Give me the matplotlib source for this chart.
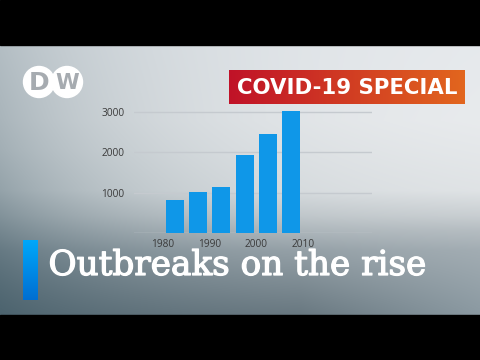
import numpy as np
import matplotlib.pyplot as plt
import matplotlib.patheffects as pe
from matplotlib.patches import Rectangle, Circle

# outbreaks per 5-year period
periods = [1980, 1985, 1990, 1995, 2000, 2005]
outbreaks = [815, 1005, 1140, 1940, 2460, 3030]
yticks = [1000, 2000, 3000]
xticks = [1980, 1990, 2000, 2010]

W, H = 480, 360
fig = plt.figure(figsize=(4.8, 3.6), dpi=100)
renderer = fig.canvas.get_renderer()


def fit_width(txt, target):
    # scale font so the text spans target pixels
    w = txt.get_window_extent(renderer).width
    txt.set_fontsize(txt.get_fontsize() * target / w)


# background in pixel coords
bg = fig.add_axes([0, 0, 1, 1])
bg.set_xlim(0, W)
bg.set_ylim(H, 0)
bg.axis('off')

yy, xx = np.mgrid[0:H, 0:W].astype(float)
rows = np.array([45, 120, 190, 215, 250, 315])
top = np.array([[233, 236, 239], [236, 238, 240], [228, 231, 233],
                [205, 210, 213], [158, 168, 174], [110, 124, 132]]) / 255
col = np.stack([np.interp(yy[:, 0], rows, top[:, k]) for k in range(3)], -1)
img = np.repeat(col[:, None, :], W, axis=1)
# darker blue grey toward the left edge
edge = np.array([66, 92, 104]) / 255
ramp = np.interp(yy[:, 0], [45, 150, 240, 315], [0.32, 0.42, 0.58, 0.78])[:, None]
t = (ramp * np.exp(-xx / 170))[..., None]
img = img * (1 - t) + edge * t
# a little lighter toward the right at the bottom
tr = (np.clip((yy - 230) / 85, 0, 1) * np.clip((xx - 300) / 180, 0, 1) * 0.12)[..., None]
img = np.clip(img + tr, 0, 1)
bg.imshow(img, extent=(0, W, H, 0), aspect='auto', zorder=0)

bg.add_patch(Rectangle((0, 0), W, 45, color='black', zorder=1))
bg.add_patch(Rectangle((0, 315), W, 45, color='black', zorder=1))

# DW logo
for cx in (39, 67):
    bg.add_patch(Circle((cx, 82), 15.5, color='white', zorder=2))
bg.text(39.5, 83, 'D', color='#a6abb0', fontsize=18, fontweight='bold',
        family='DejaVu Sans', ha='center', va='center', zorder=3)
bg.text(67, 83, 'W', color='#a6abb0', fontsize=15.5, fontweight='bold',
        family='DejaVu Sans', ha='center', va='center', zorder=3)

# red banner with gradient
grad = np.linspace(0, 1, 200)[None, :, None]
c0 = np.array([192, 18, 40]) / 255
c1 = np.array([226, 102, 30]) / 255
bg.imshow(c0 * (1 - grad) + c1 * grad, extent=(229, 465, 104, 70),
          aspect='auto', zorder=2)
banner = bg.text(347, 94, 'COVID-19 SPECIAL', color='white', fontsize=14,
                 fontweight='bold', family='DejaVu Sans', ha='center',
                 va='baseline', zorder=3)
fit_width(banner, 220)

# title accent bar
vg = np.linspace(0, 1, 100)[:, None, None]
b0 = np.array([0, 168, 250]) / 255
b1 = np.array([0, 110, 210]) / 255
bg.imshow(b0 * (1 - vg) + b1 * vg, extent=(23, 38, 300, 240),
          aspect='auto', zorder=2)
title = bg.text(48.5, 275, 'Outbreaks on the rise', color='white', fontsize=22,
                family='DejaVu Serif', ha='left', va='baseline', zorder=3,
                path_effects=[pe.withStroke(linewidth=0.9, foreground='white')])
fit_width(title, 378)

# bar chart
ax = fig.add_axes([134 / W, 1 - 233 / H, 238 / W, (233 - 107.7) / H])
ax.patch.set_alpha(0)
ax.bar([p + 2.5 for p in periods], outbreaks, width=3.85, color='#0f97e8', zorder=2)
ax.set_xlim(1973.8, 2024.8)
ax.set_ylim(0, 3100)
ax.set_yticks(yticks)
ax.set_xticks(xticks)
ax.grid(axis='y', color='#c5cacf', linewidth=1, zorder=0)
ax.axhline(0, color='#c5cacf', linewidth=1, zorder=1)
for s in ax.spines.values():
    s.set_visible(False)
ax.tick_params(length=0, labelsize=7.3, labelcolor='#3a3a3a', pad=7)
ax.tick_params(axis='x', pad=4)
for lab in ax.get_xticklabels() + ax.get_yticklabels():
    lab.set_family('Open Sans')

fig.savefig('out.png', dpi=100)
